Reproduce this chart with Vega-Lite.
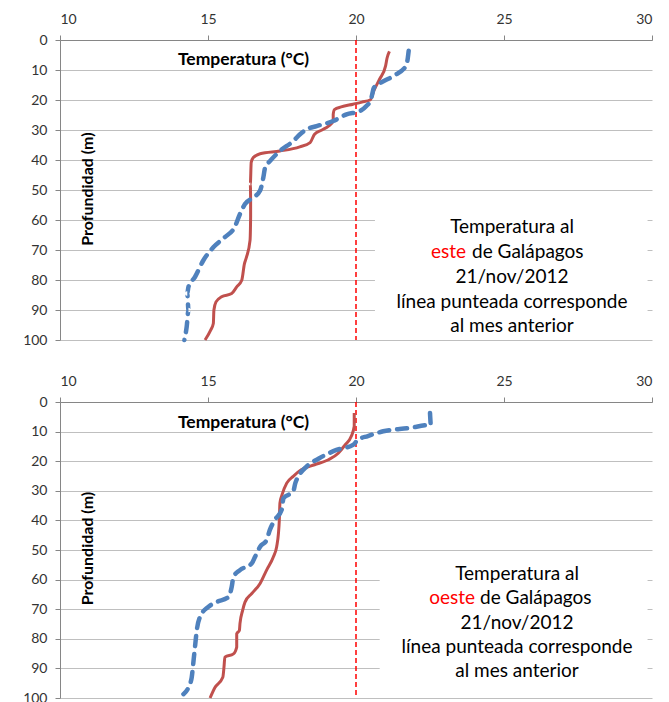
{
  "$schema": "https://vega.github.io/schema/vega-lite/v6.json",
  "padding": {"left": 5, "top": 5, "right": 5, "bottom": 0},
  "spacing": 18,
  "config": {
    "view": {"stroke": null},
    "axis": {"labelFont": "Lato", "labelFontSize": 14, "labelColor": "#333333", "domainColor": "#868686", "tickColor": "#868686", "tickSize": 5, "title": null, "labelOverlap": false},
    "axisX": {"orient": "top", "grid": false, "labelPadding": 9, "minExtent": 35, "maxExtent": 35},
    "axisY": {"orient": "left", "grid": true, "gridColor": "#BFBFBF", "values": [0, 10, 20, 30, 40, 50, 60, 70, 80, 90, 100], "tickCount": 11, "labelPadding": 8, "minExtent": 55, "maxExtent": 55}
  },
  "datasets": {
    "este": [
      {"s": "actual", "t": 21.13, "d": 3.8}, {"s": "actual", "t": 21.05, "d": 6}, {"s": "actual", "t": 21.0, "d": 8.6}, {"s": "actual", "t": 20.8, "d": 13}, {"s": "actual", "t": 20.6, "d": 17}, {"s": "actual", "t": 20.49, "d": 19.9}, {"s": "actual", "t": 20.2, "d": 20.7}, {"s": "actual", "t": 19.9, "d": 21.4}, {"s": "actual", "t": 19.5, "d": 22.3}, {"s": "actual", "t": 19.27, "d": 23.2}, {"s": "actual", "t": 19.23, "d": 24.8}, {"s": "actual", "t": 19.23, "d": 27}, {"s": "actual", "t": 19.07, "d": 28.7}, {"s": "actual", "t": 18.85, "d": 30}, {"s": "actual", "t": 18.6, "d": 31.4}, {"s": "actual", "t": 18.45, "d": 34.2}, {"s": "actual", "t": 18.1, "d": 35.6}, {"s": "actual", "t": 17.43, "d": 37}, {"s": "actual", "t": 16.76, "d": 37.9}, {"s": "actual", "t": 16.53, "d": 39.2}, {"s": "actual", "t": 16.46, "d": 40.8}, {"s": "actual", "t": 16.43, "d": 48}, {"s": "actual", "t": 16.44, "d": 53.6}, {"s": "actual", "t": 16.44, "d": 59.1}, {"s": "actual", "t": 16.42, "d": 66.8}, {"s": "actual", "t": 16.3, "d": 72.4}, {"s": "actual", "t": 16.23, "d": 74.6}, {"s": "actual", "t": 16.14, "d": 80.1}, {"s": "actual", "t": 15.97, "d": 82.3}, {"s": "actual", "t": 15.8, "d": 84.5}, {"s": "actual", "t": 15.46, "d": 85.6}, {"s": "actual", "t": 15.27, "d": 87.3}, {"s": "actual", "t": 15.2, "d": 90}, {"s": "actual", "t": 15.18, "d": 94.5}, {"s": "actual", "t": 15.09, "d": 96.7}, {"s": "actual", "t": 14.9, "d": 100},
      {"s": "anterior", "t": 21.78, "d": 3.6}, {"s": "anterior", "t": 21.75, "d": 6}, {"s": "anterior", "t": 21.7, "d": 8.5}, {"s": "anterior", "t": 21.28, "d": 11.9}, {"s": "anterior", "t": 20.8, "d": 14.5}, {"s": "anterior", "t": 20.6, "d": 16}, {"s": "anterior", "t": 20.55, "d": 18}, {"s": "anterior", "t": 20.5, "d": 20}, {"s": "anterior", "t": 20.35, "d": 22}, {"s": "anterior", "t": 20.13, "d": 23.7}, {"s": "anterior", "t": 19.68, "d": 24.8}, {"s": "anterior", "t": 19.23, "d": 27}, {"s": "anterior", "t": 18.67, "d": 28.7}, {"s": "anterior", "t": 18.33, "d": 29.8}, {"s": "anterior", "t": 18.1, "d": 31.5}, {"s": "anterior", "t": 17.88, "d": 33.7}, {"s": "anterior", "t": 17.43, "d": 37}, {"s": "anterior", "t": 17.1, "d": 40.3}, {"s": "anterior", "t": 16.93, "d": 42.5}, {"s": "anterior", "t": 16.87, "d": 45.8}, {"s": "anterior", "t": 16.76, "d": 50.2}, {"s": "anterior", "t": 16.53, "d": 52.5}, {"s": "anterior", "t": 16.25, "d": 54.7}, {"s": "anterior", "t": 16.08, "d": 58}, {"s": "anterior", "t": 15.9, "d": 62.4}, {"s": "anterior", "t": 15.57, "d": 65.7}, {"s": "anterior", "t": 15.18, "d": 69.1}, {"s": "anterior", "t": 14.84, "d": 73.5}, {"s": "anterior", "t": 14.56, "d": 79}, {"s": "anterior", "t": 14.34, "d": 82.3}, {"s": "anterior", "t": 14.3, "d": 84.5}, {"s": "anterior", "t": 14.34, "d": 90}, {"s": "anterior", "t": 14.28, "d": 95.6}, {"s": "anterior", "t": 14.2, "d": 100}
    ],
    "oeste": [
      {"s": "actual", "t": 19.94, "d": 3.7}, {"s": "actual", "t": 19.94, "d": 8.2}, {"s": "actual", "t": 19.84, "d": 11.6}, {"s": "actual", "t": 19.63, "d": 14.5}, {"s": "actual", "t": 19.4, "d": 17.3}, {"s": "actual", "t": 19.05, "d": 19.6}, {"s": "actual", "t": 18.6, "d": 21.2}, {"s": "actual", "t": 18.15, "d": 22.9}, {"s": "actual", "t": 17.88, "d": 25.1}, {"s": "actual", "t": 17.66, "d": 27.4}, {"s": "actual", "t": 17.52, "d": 30.8}, {"s": "actual", "t": 17.43, "d": 34.2}, {"s": "actual", "t": 17.41, "d": 39.8}, {"s": "actual", "t": 17.38, "d": 44.4}, {"s": "actual", "t": 17.32, "d": 48.9}, {"s": "actual", "t": 17.21, "d": 52.3}, {"s": "actual", "t": 16.98, "d": 56.8}, {"s": "actual", "t": 16.76, "d": 61.3}, {"s": "actual", "t": 16.48, "d": 64.7}, {"s": "actual", "t": 16.25, "d": 67.6}, {"s": "actual", "t": 16.17, "d": 70.4}, {"s": "actual", "t": 16.08, "d": 74.9}, {"s": "actual", "t": 16.06, "d": 77.2}, {"s": "actual", "t": 15.97, "d": 78.3}, {"s": "actual", "t": 15.97, "d": 82.8}, {"s": "actual", "t": 15.86, "d": 85.1}, {"s": "actual", "t": 15.57, "d": 86.2}, {"s": "actual", "t": 15.54, "d": 89.6}, {"s": "actual", "t": 15.5, "d": 93}, {"s": "actual", "t": 15.24, "d": 96.4}, {"s": "actual", "t": 15.07, "d": 100},
      {"s": "anterior", "t": 22.5, "d": 3.7}, {"s": "anterior", "t": 22.53, "d": 7.7}, {"s": "anterior", "t": 21.78, "d": 8.8}, {"s": "anterior", "t": 20.92, "d": 9.9}, {"s": "anterior", "t": 20.4, "d": 11.5}, {"s": "anterior", "t": 20.06, "d": 12.8}, {"s": "anterior", "t": 19.9, "d": 14.5}, {"s": "anterior", "t": 19.34, "d": 16.2}, {"s": "anterior", "t": 18.76, "d": 19}, {"s": "anterior", "t": 18.33, "d": 21.8}, {"s": "anterior", "t": 18.05, "d": 25.2}, {"s": "anterior", "t": 17.95, "d": 27.4}, {"s": "anterior", "t": 17.88, "d": 30.2}, {"s": "anterior", "t": 17.55, "d": 32.5}, {"s": "anterior", "t": 17.49, "d": 36.4}, {"s": "anterior", "t": 17.26, "d": 39.8}, {"s": "anterior", "t": 17.09, "d": 43.2}, {"s": "anterior", "t": 16.98, "d": 46.6}, {"s": "anterior", "t": 16.76, "d": 48.9}, {"s": "anterior", "t": 16.59, "d": 52.3}, {"s": "anterior", "t": 16.48, "d": 54.5}, {"s": "anterior", "t": 16.08, "d": 56.8}, {"s": "anterior", "t": 15.86, "d": 59.1}, {"s": "anterior", "t": 15.8, "d": 62.5}, {"s": "anterior", "t": 15.69, "d": 65.9}, {"s": "anterior", "t": 15.29, "d": 67.6}, {"s": "anterior", "t": 15.0, "d": 69.3}, {"s": "anterior", "t": 14.73, "d": 72.6}, {"s": "anterior", "t": 14.62, "d": 77.2}, {"s": "anterior", "t": 14.56, "d": 82.8}, {"s": "anterior", "t": 14.5, "d": 88.5}, {"s": "anterior", "t": 14.45, "d": 93}, {"s": "anterior", "t": 14.34, "d": 96.4}, {"s": "anterior", "t": 14.17, "d": 98.7}
    ]
  },
  "vconcat": [
    {
      "width": 592, "height": 300,
      "layer": [
        {"data": {"values": [{}]}, "mark": {"type": "rect", "fill": "white"}, "encoding": {"x": {"datum": 20.64, "type": "quantitative", "scale": {"domain": [10, 30]}, "axis": {"values": [10, 15, 20, 25, 30]}}, "x2": {"datum": 29.85}, "y": {"datum": 53, "type": "quantitative", "scale": {"domain": [0, 100], "reverse": true}}, "y2": {"datum": 98}}},
        {"data": {"values": [{}]}, "mark": {"type": "rule", "color": "#FF0000", "strokeWidth": 1.5, "strokeDash": [5, 3]}, "encoding": {"x": {"datum": 20, "type": "quantitative"}}},
        {"data": {"name": "este"}, "transform": [{"filter": "datum.s == 'actual'"}], "mark": {"type": "line", "color": "#C0504D", "strokeWidth": 3, "interpolate": "monotone"}, "encoding": {"x": {"field": "t", "type": "quantitative"}, "y": {"field": "d", "type": "quantitative"}, "order": {"field": "d"}}},
        {"data": {"name": "este"}, "transform": [{"filter": "datum.s == 'anterior'"}], "mark": {"type": "line", "color": "#4F81BD", "strokeWidth": 4.5, "strokeDash": [10, 8], "strokeCap": "round", "interpolate": "monotone"}, "encoding": {"x": {"field": "t", "type": "quantitative"}, "y": {"field": "d", "type": "quantitative"}, "order": {"field": "d"}}},
        {"data": {"values": [{}]}, "mark": {"type": "text", "text": "Temperatura (°C)", "font": "Lato", "fontSize": 17.5, "fontWeight": "bold", "color": "#000000", "align": "center", "baseline": "middle"}, "encoding": {"x": {"datum": 16.2}, "y": {"datum": 6.5}}},
        {"data": {"values": [{}]}, "mark": {"type": "text", "text": "Profundidad (m)", "font": "Lato", "fontSize": 16, "fontWeight": "bold", "color": "#000000", "align": "center", "baseline": "middle", "angle": 270}, "encoding": {"x": {"datum": 10.96}, "y": {"datum": 49.7}}},
        {"data": {"values": [{}]}, "mark": {"type": "text", "text": "Temperatura al", "font": "Lato", "fontSize": 19, "color": "#000000", "align": "center", "baseline": "middle"}, "encoding": {"x": {"datum": 25.27}, "y": {"datum": 62.2}}},
        {"data": {"values": [{}]}, "mark": {"type": "text", "text": "este", "font": "Lato", "fontSize": 19, "color": "#FF0000", "align": "right", "baseline": "middle"}, "encoding": {"x": {"datum": 23.72}, "y": {"datum": 70.6}}},
        {"data": {"values": [{}]}, "mark": {"type": "text", "text": "de Galápagos", "font": "Lato", "fontSize": 19, "color": "#000000", "align": "left", "baseline": "middle"}, "encoding": {"x": {"datum": 23.92}, "y": {"datum": 70.6}}},
        {"data": {"values": [{}]}, "mark": {"type": "text", "text": "21/nov/2012", "font": "Lato", "fontSize": 19, "color": "#000000", "align": "center", "baseline": "middle"}, "encoding": {"x": {"datum": 25.27}, "y": {"datum": 78.9}}},
        {"data": {"values": [{}]}, "mark": {"type": "text", "text": "línea punteada corresponde", "font": "Lato", "fontSize": 19, "color": "#000000", "align": "center", "baseline": "middle"}, "encoding": {"x": {"datum": 25.27}, "y": {"datum": 87.2}}},
        {"data": {"values": [{}]}, "mark": {"type": "text", "text": "al mes anterior", "font": "Lato", "fontSize": 19, "color": "#000000", "align": "center", "baseline": "middle"}, "encoding": {"x": {"datum": 25.27}, "y": {"datum": 95.3}}}
      ]
    },
    {
      "width": 592, "height": 296,
      "layer": [
        {"data": {"values": [{}]}, "mark": {"type": "rect", "fill": "white"}, "encoding": {"x": {"datum": 20.8, "type": "quantitative", "scale": {"domain": [10, 30]}, "axis": {"values": [10, 15, 20, 25, 30]}}, "x2": {"datum": 29.85}, "y": {"datum": 52, "type": "quantitative", "scale": {"domain": [0, 100], "reverse": true}}, "y2": {"datum": 98}}},
        {"data": {"values": [{}]}, "mark": {"type": "rule", "color": "#FF0000", "strokeWidth": 1.5, "strokeDash": [5, 3]}, "encoding": {"x": {"datum": 20, "type": "quantitative"}}},
        {"data": {"name": "oeste"}, "transform": [{"filter": "datum.s == 'actual'"}], "mark": {"type": "line", "color": "#C0504D", "strokeWidth": 3, "interpolate": "monotone"}, "encoding": {"x": {"field": "t", "type": "quantitative"}, "y": {"field": "d", "type": "quantitative"}, "order": {"field": "d"}}},
        {"data": {"name": "oeste"}, "transform": [{"filter": "datum.s == 'anterior'"}], "mark": {"type": "line", "color": "#4F81BD", "strokeWidth": 4.5, "strokeDash": [10, 8], "strokeCap": "round", "interpolate": "monotone"}, "encoding": {"x": {"field": "t", "type": "quantitative"}, "y": {"field": "d", "type": "quantitative"}, "order": {"field": "d"}}},
        {"data": {"values": [{}]}, "mark": {"type": "text", "text": "Temperatura (°C)", "font": "Lato", "fontSize": 17.5, "fontWeight": "bold", "color": "#000000", "align": "center", "baseline": "middle"}, "encoding": {"x": {"datum": 16.2}, "y": {"datum": 7}}},
        {"data": {"values": [{}]}, "mark": {"type": "text", "text": "Profundidad (m)", "font": "Lato", "fontSize": 16, "fontWeight": "bold", "color": "#000000", "align": "center", "baseline": "middle", "angle": 270}, "encoding": {"x": {"datum": 10.96}, "y": {"datum": 49.5}}},
        {"data": {"values": [{}]}, "mark": {"type": "text", "text": "Temperatura al", "font": "Lato", "fontSize": 19, "color": "#000000", "align": "center", "baseline": "middle"}, "encoding": {"x": {"datum": 25.44}, "y": {"datum": 58.1}}},
        {"data": {"values": [{}]}, "mark": {"type": "text", "text": "oeste", "font": "Lato", "fontSize": 19, "color": "#FF0000", "align": "right", "baseline": "middle"}, "encoding": {"x": {"datum": 24.02}, "y": {"datum": 66.2}}},
        {"data": {"values": [{}]}, "mark": {"type": "text", "text": "de Galápagos", "font": "Lato", "fontSize": 19, "color": "#000000", "align": "left", "baseline": "middle"}, "encoding": {"x": {"datum": 24.19}, "y": {"datum": 66.2}}},
        {"data": {"values": [{}]}, "mark": {"type": "text", "text": "21/nov/2012", "font": "Lato", "fontSize": 19, "color": "#000000", "align": "center", "baseline": "middle"}, "encoding": {"x": {"datum": 25.44}, "y": {"datum": 74.5}}},
        {"data": {"values": [{}]}, "mark": {"type": "text", "text": "línea punteada corresponde", "font": "Lato", "fontSize": 19, "color": "#000000", "align": "center", "baseline": "middle"}, "encoding": {"x": {"datum": 25.44}, "y": {"datum": 82.7}}},
        {"data": {"values": [{}]}, "mark": {"type": "text", "text": "al mes anterior", "font": "Lato", "fontSize": 19, "color": "#000000", "align": "center", "baseline": "middle"}, "encoding": {"x": {"datum": 25.44}, "y": {"datum": 90.8}}}
      ]
    }
  ]
}
